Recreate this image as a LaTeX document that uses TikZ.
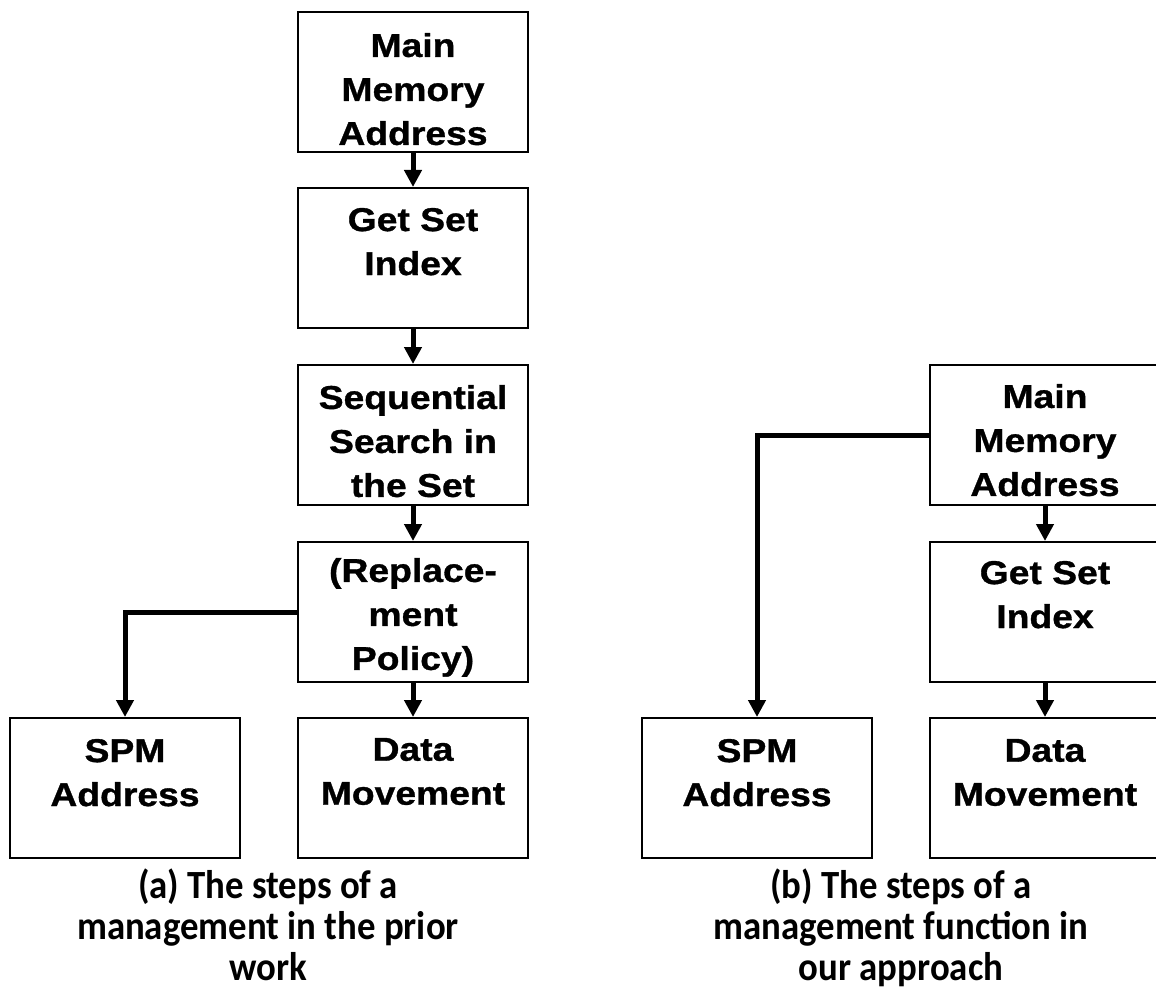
\documentclass[tikz,border=0pt]{standalone}
\usepackage{fontspec}
\newfontfamily\boxfont{Liberation Sans}[FakeStretch=1.13,FakeBold=1]
\newfontfamily\capfont{Carlito}[FakeStretch=0.92]
\usetikzlibrary{arrows.meta}
% box contents: top-aligned lines, pushed down by #1
\newcommand\steptext[2]{\parbox[c][140pt][t]{230pt}{\centering\vspace*{#1}#2}}

\begin{document}
\begin{tikzpicture}[x=1pt,y=-1pt,
  stepbox/.style={draw, line width=2pt, inner sep=0pt,
    font=\boxfont\bfseries\fontsize{33}{44}\selectfont},
  conn/.style={line width=5pt, -{Triangle[length=17pt,width=17pt]}},
  caption/.style={font=\capfont\bfseries\fontsize{40}{41}\selectfont,
    align=center, inner sep=0pt, anchor=north}]
\useasboundingbox (0,0) rectangle (1156,1000);
\fill[white] (0,0) rectangle (1156,1000);

% (a) prior work
\node[stepbox] (a1) at (413,82)  {\steptext{21pt}{Main\\Memory\\Address}};
\node[stepbox] (a2) at (413,258) {\steptext{20pt}{Get Set\\Index}};
\node[stepbox] (a3) at (413,435) {\steptext{20pt}{Sequential\\Search in\\the Set}};
\node[stepbox] (a4) at (413,612) {\steptext{16pt}{(Replace-\\ment\\Policy)}};
\node[stepbox] (a5) at (125,788) {\steptext{21pt}{SPM\\Address}};
\node[stepbox] (a6) at (413,788) {\steptext{20pt}{Data\\Movement}};

\draw[conn] (a1) -- (a2);
\draw[conn] (a2) -- (a3);
\draw[conn] (a3) -- (a4);
\draw[conn] (a4) -- (a6);
\draw[conn] (a4.west) -| (a5.north);

% (b) our approach
\node[stepbox] (b1) at (1045,435) {\steptext{19pt}{Main\\Memory\\Address}};
\node[stepbox] (b2) at (1045,612) {\steptext{19pt}{Get Set\\Index}};
\node[stepbox] (b3) at (757,788)  {\steptext{21pt}{SPM\\Address}};
\node[stepbox] (b4) at (1045,788) {\steptext{21pt}{Data\\Movement}};

\draw[conn] (b1) -- (b2);
\draw[conn] (b2) -- (b4);
\draw[conn] (b1.west) -| (b3.north);

% captions
\node[caption] (capa) at (268,869) {(a) The steps of a\\management in the prior\\work};
\node[caption] (capb) at (901,869) {(b) The steps of a\\management function in\\our approach};
\end{tikzpicture}
\end{document}
